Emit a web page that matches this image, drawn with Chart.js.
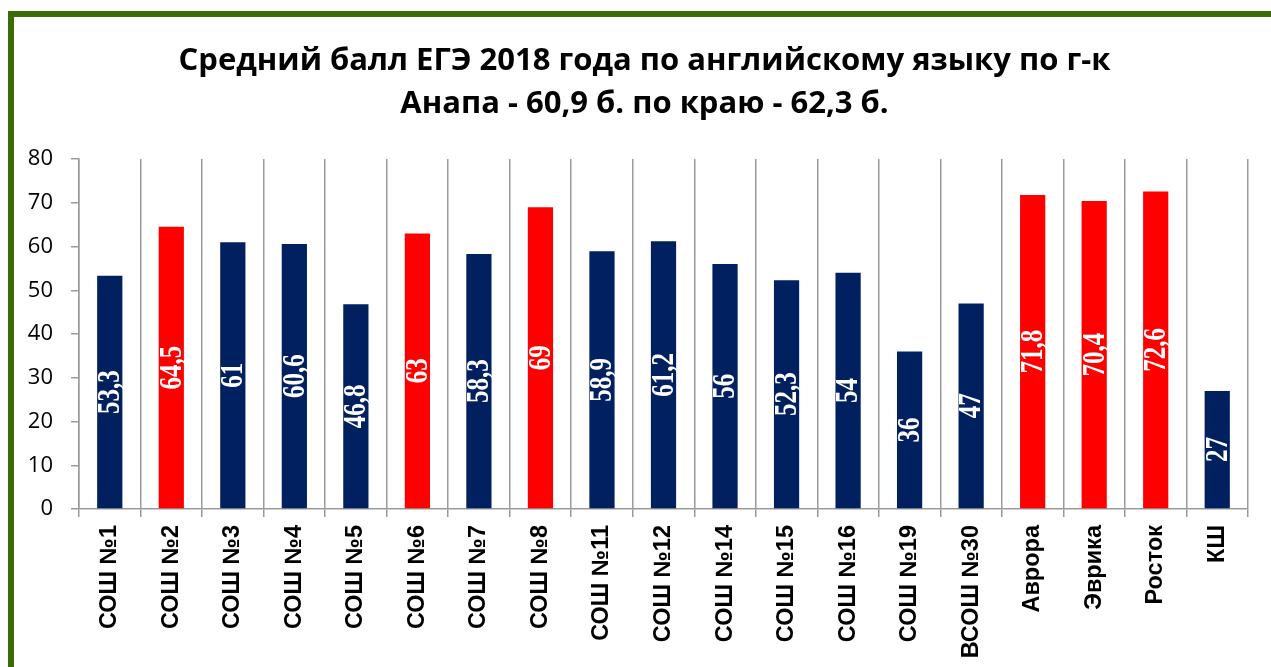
<!DOCTYPE html>
<html>
<head>
<meta charset="utf-8">
<script src="https://cdn.jsdelivr.net/npm/chart.js@4.4.1/dist/chart.umd.min.js"></script>
<style>
  html, body { margin: 0; padding: 0; background: #fff; overflow: hidden; }
  #wrap { position: relative; width: 1271px; height: 667px; }
  #frame {
    position: absolute; left: 8px; top: 11px; width: 1300px; height: 700px;
    border: 6px solid #3c6c06; box-sizing: border-box; pointer-events: none;
  }
</style>
</head>
<body>
<div id="wrap">
  <canvas id="chart" width="1271" height="667"></canvas>
  <div id="frame"></div>
</div>
<script>
// school names along the x axis
const schools = ['СОШ №1', 'СОШ №2', 'СОШ №3', 'СОШ №4', 'СОШ №5', 'СОШ №6', 'СОШ №7', 'СОШ №8',
    'СОШ №11', 'СОШ №12', 'СОШ №14', 'СОШ №15', 'СОШ №16', 'СОШ №19', 'ВСОШ №30',
    'Аврора', 'Эврика', 'Росток', 'КШ'];
// average score per school
const scores = [53.3, 64.5, 61, 60.6, 46.8, 63, 58.3, 69, 58.9, 61.2, 56, 52.3, 54, 36, 47, 71.8, 70.4, 72.6, 27];
// schools above the regional average are red
const aboveRegion = ['СОШ №2', 'СОШ №6', 'СОШ №8', 'Аврора', 'Эврика', 'Росток'];
const yTicks = [0, 10, 20, 30, 40, 50, 60, 70, 80];

const NAVY = '#002060';
const RED = '#ff0000';
const GRID = '#9a9a9a';

// value labels written vertically in the middle of each bar
const barValues = {
    id: 'barValues',
    afterDatasetsDraw(chart) {
        const ctx = chart.ctx;
        const meta = chart.getDatasetMeta(0);
        ctx.save();
        ctx.fillStyle = '#ffffff';
        ctx.font = 'bold 25px "Liberation Serif", "Times New Roman", serif';
        ctx.textAlign = 'center';
        ctx.textBaseline = 'middle';
        meta.data.forEach((bar, i) => {
            const y = (bar.y + bar.base) / 2;
            ctx.save();
            ctx.translate(bar.x, y);
            ctx.rotate(-Math.PI / 2);
            ctx.scale(1, 1.25);
            ctx.fillText(String(scores[i]).replace('.', ','), 0, 1);
            ctx.restore();
        });
        ctx.restore();
    }
};

const whiteBg = {
    id: 'whiteBg',
    beforeDraw(chart) {
        const ctx = chart.ctx;
        ctx.save();
        ctx.fillStyle = '#fff';
        ctx.fillRect(0, 0, chart.width, chart.height);
        ctx.restore();
    }
};

// title sits a bit right of the canvas centre in the original
const shiftTitle = {
    id: 'shiftTitle',
    afterLayout(chart) {
        if (chart.titleBlock) {
            chart.titleBlock.left += 13;
            chart.titleBlock.right += 13;
        }
    }
};

new Chart(document.getElementById('chart'), {
    type: 'bar',
    data: {
        labels: schools,
        datasets: [{
            data: scores,
            backgroundColor: schools.map(s => aboveRegion.includes(s) ? RED : NAVY),
            borderWidth: 0,
            categoryPercentage: 1,
            barPercentage: 0.41
        }]
    },
    options: {
        responsive: false,
        animation: false,
        layout: { padding: { left: 15, right: 23, top: 0, bottom: 0 } },
        plugins: {
            legend: { display: false },
            tooltip: { enabled: false },
            title: {
                display: true,
                text: ['Средний балл ЕГЭ 2018 года по английскому языку по г-к',
                       'Анапа - 60,9 б. по краю - 62,3 б.'],
                color: '#000',
                font: { family: '"Open Sans", sans-serif', size: 31, weight: 'bold', lineHeight: 43 / 31 },
                padding: { top: 40, bottom: 33 }
            }
        },
        scales: {
            x: {
                afterFit(scale) { scale.height = 158; },
                grid: { offset: true, color: GRID, lineWidth: 1.5, tickLength: 8, drawOnChartArea: true },
                border: { color: GRID, width: 1.5 },
                ticks: {
                    color: '#000',
                    maxRotation: 90,
                    minRotation: 90,
                    padding: 8,
                    font: { family: '"Liberation Sans", Arial, sans-serif', size: 23.5, weight: 'bold' }
                }
            },
            y: {
                min: 0,
                max: 80,
                afterFit(scale) { scale.width = 64; },
                afterBuildTicks(scale) { scale.ticks = yTicks.map(v => ({ value: v })); },
                grid: { drawOnChartArea: false, color: GRID, lineWidth: 1.5, tickLength: 8 },
                border: { color: GRID, width: 1.5 },
                ticks: {
                    color: '#000',
                    padding: 18,
                    font: { family: '"Open Sans", sans-serif', size: 22 }
                }
            }
        }
    },
    plugins: [whiteBg, shiftTitle, barValues]
});
</script>
</body>
</html>
